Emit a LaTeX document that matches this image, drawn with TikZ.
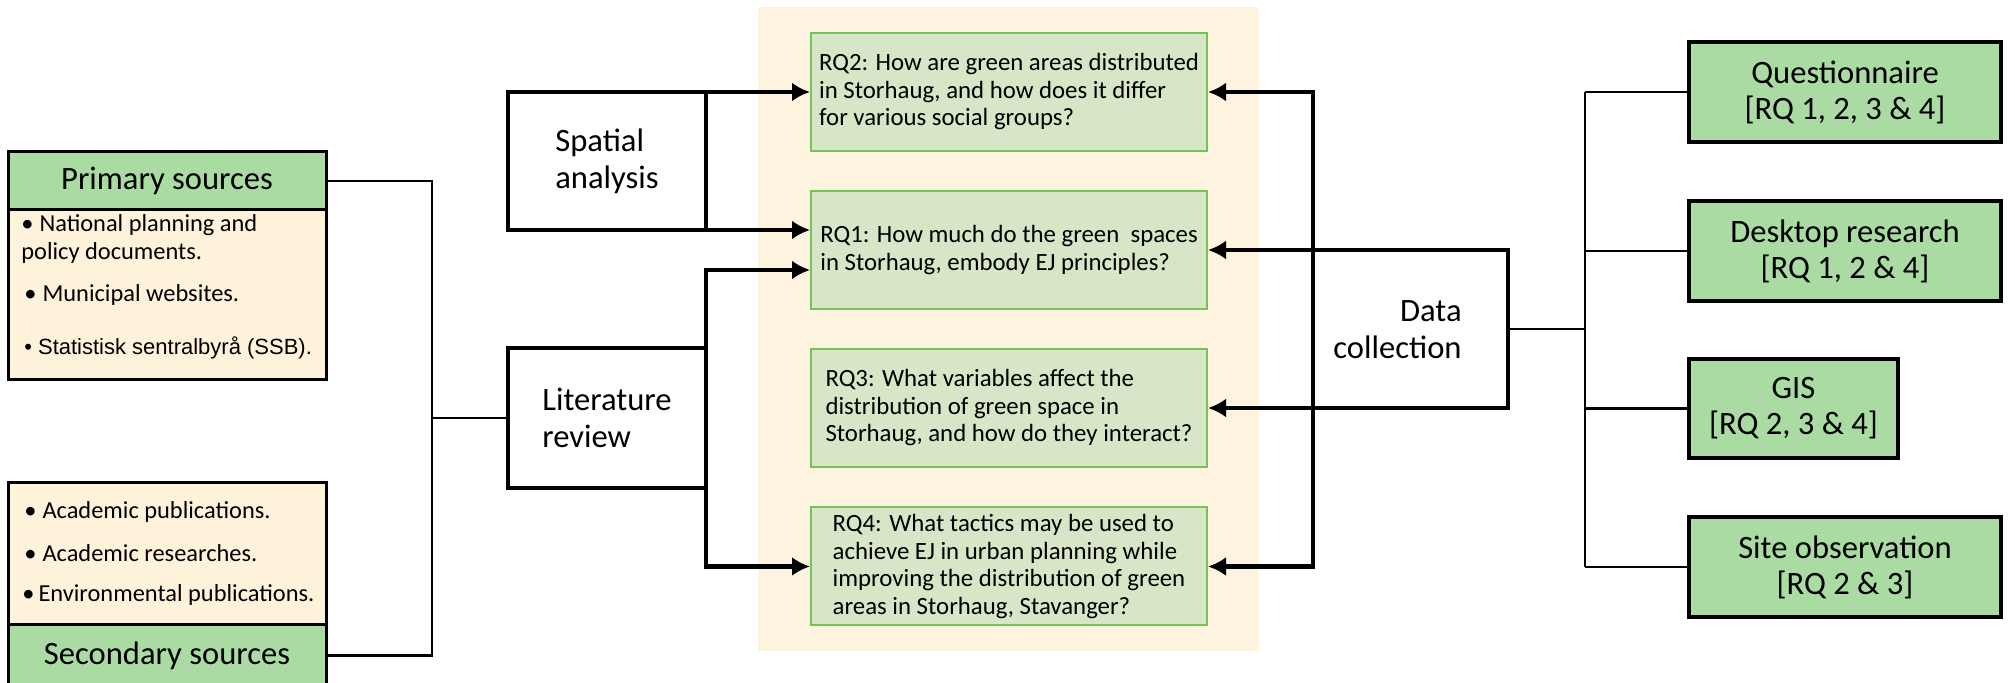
\documentclass[tikz,border=0pt]{standalone}
\usepackage{fontspec}
\setmainfont{Carlito}
\newfontfamily\arialfont{Liberation Sans}
\usetikzlibrary{arrows.meta,calc}

\definecolor{headgreen}{HTML}{A9DBA2}
\definecolor{rqgreen}{HTML}{D7E6C6}
\definecolor{rqborder}{HTML}{72C45A}
\definecolor{panelbeige}{HTML}{FEF3DF}
\definecolor{bodycream}{HTML}{FFF2DB}

\tikzset{
  rqtip/.tip={Latex[length=9pt,width=9.5pt]},
  bigfont/.style={font=\fontsize{16.3}{18.5}\selectfont},
  srchead/.style={draw,line width=1.5pt,fill=headgreen,minimum width=159pt,inner sep=0pt,bigfont},
  srcbody/.style={draw,line width=1.5pt,fill=bodycream,minimum width=159pt,inner sep=0pt},
  srcitem/.style={anchor=west,inner sep=0pt,align=left,font=\fontsize{12.2}{14}\selectfont},
  methodbox/.style={draw,line width=2.4pt,fill=white,minimum width=99pt,minimum height=69pt,inner sep=0pt,outer sep=0pt,align=left,bigfont},
  rqbox/.style={draw=rqborder,line width=1pt,fill=rqgreen,minimum width=198pt,minimum height=59pt,inner sep=0pt,align=left,font=\fontsize{12.4}{13.75}\selectfont},
  toolbox/.style={draw,line width=1.6pt,fill=headgreen,minimum width=156pt,minimum height=50pt,inner sep=0pt,align=center,font=\fontsize{16.3}{18}\selectfont},
  thinline/.style={line width=1.2pt},
  thickline/.style={line width=2.4pt},
}

\begin{document}
\begin{tikzpicture}[x=0.5pt,y=-0.5pt]
	%%%%% START %%%%%
	\useasboundingbox (0,0) rectangle (2015,683);
	\fill[panelbeige] (758,7) rectangle (1259,651);
	
	% sources
	\node[srchead,minimum height=29pt] (prim) at (167,181) {Primary sources};
	\node[srcbody,minimum height=85pt] (primbody) at (167,295) {};
	\node[srcitem] (pitem1) at (21,239) {\textbullet\hspace{3pt}National planning and\\policy documents.};
	\node[srcitem] (pitem2) at (24,295) {\textbullet\hspace{3pt}Municipal websites.};
	\node[srcitem,font=\arialfont\fontsize{11}{13}\selectfont] (pitem3) at (24,348) {\textbullet\hspace{3pt}Statistisk sentralbyrå (SSB).};
	
	\node[srcbody,minimum height=71pt] (secbody) at (167,554) {};
	\node[srcitem] (sitem1) at (24,512) {\textbullet\hspace{3pt}Academic publications.};
	\node[srcitem] (sitem2) at (24,553) {\textbullet\hspace{3pt}Academic researches.};
	\node[srcitem] (sitem3) at (22,595) {\textbullet\hspace{2pt}Environmental publications.};
	\node[srchead,minimum height=30.5pt] (sec) at (167,655.5) {Secondary sources};
	
	% methods
	\node[methodbox] (spatial) at (607,161) {Spatial\\analysis};
	\node[methodbox,minimum height=70pt] (litrev) at (607,418) {Literature\\review};
	
	\coordinate (lbranch) at (432,418);
	\draw[thinline] (prim.east) -| (lbranch) |- (sec.east);
	\draw[thinline] (lbranch) -- (litrev.west);
	
	% research questions
	\node[rqbox] (rq2) at (1009,92) {RQ2: How are green areas distributed\\in Storhaug, and how does it differ\\for various social groups?};
	\node[rqbox] (rq1) at (1009,250) {RQ1: How much do the green\ \ spaces\\in Storhaug, embody EJ principles?};
	\node[rqbox] (rq3) at (1009,408) {RQ3: What variables affect the\\distribution of green space in\\Storhaug, and how do they interact?};
	\node[rqbox] (rq4) at (1009,566.5) {RQ4: What tactics may be used to\\achieve EJ in urban planning while\\improving the distribution of green\\areas in Storhaug, Stavanger?};
	
	\draw[thickline,-rqtip] (spatial.north west) -- (rq2.west);
	\draw[thickline,-rqtip] (spatial.south west) -- ($(rq1.west)+(0,-20)$);
	\draw[thickline,-rqtip] (litrev.north east) |- ($(rq1.west)+(0,20)$);
	\draw[thickline,-rqtip] (litrev.south east) |- (rq4.west);
	
	% data collection
	\coordinate (dv) at (1313,0);
	\draw[thickline,rqtip-rqtip] (rq2.east) -- (rq2.east -| dv) -- (rq4.east -| dv) -- (rq4.east);
	\node[bigfont,align=right,anchor=east,inner sep=0pt] (dcoll) at (1462,330) {Data\\collection};
	\coordinate (dcne) at (1508,250);
	\coordinate (dcse) at (1508,408);
	\draw[thickline,rqtip-rqtip] (rq1.east) -- (rq1.east -| dcne) -- (dcse) -- (rq3.east);
	
	% tools
	\node[toolbox] (quest) at (1845,92) {Questionnaire\\{[RQ 1, 2, 3 \& 4]}};
	\node[toolbox] (desk) at (1845,251) {Desktop research\\{[RQ 1, 2 \& 4]}};
	\node[toolbox,minimum width=104.5pt,minimum height=49.5pt] (gis) at (1793.5,408.5) {GIS\\{[RQ 2, 3 \& 4]}};
	\node[toolbox] (site) at (1845,567) {Site observation\\{[RQ 2 \& 3]}};
	
	\coordinate (dce) at (1508,329);
	\coordinate (rtrunk) at (1585,329);
	\draw[thinline] (dce) -- (rtrunk);
	\draw[thinline] (quest.west -| rtrunk) -- (site.west -| rtrunk);
	\foreach \t in {quest,desk,gis,site}
		\draw[thinline] (\t.west -| rtrunk) -- (\t.west);
	
	%%%%% END %%%%%
\end{tikzpicture}
\end{document}
